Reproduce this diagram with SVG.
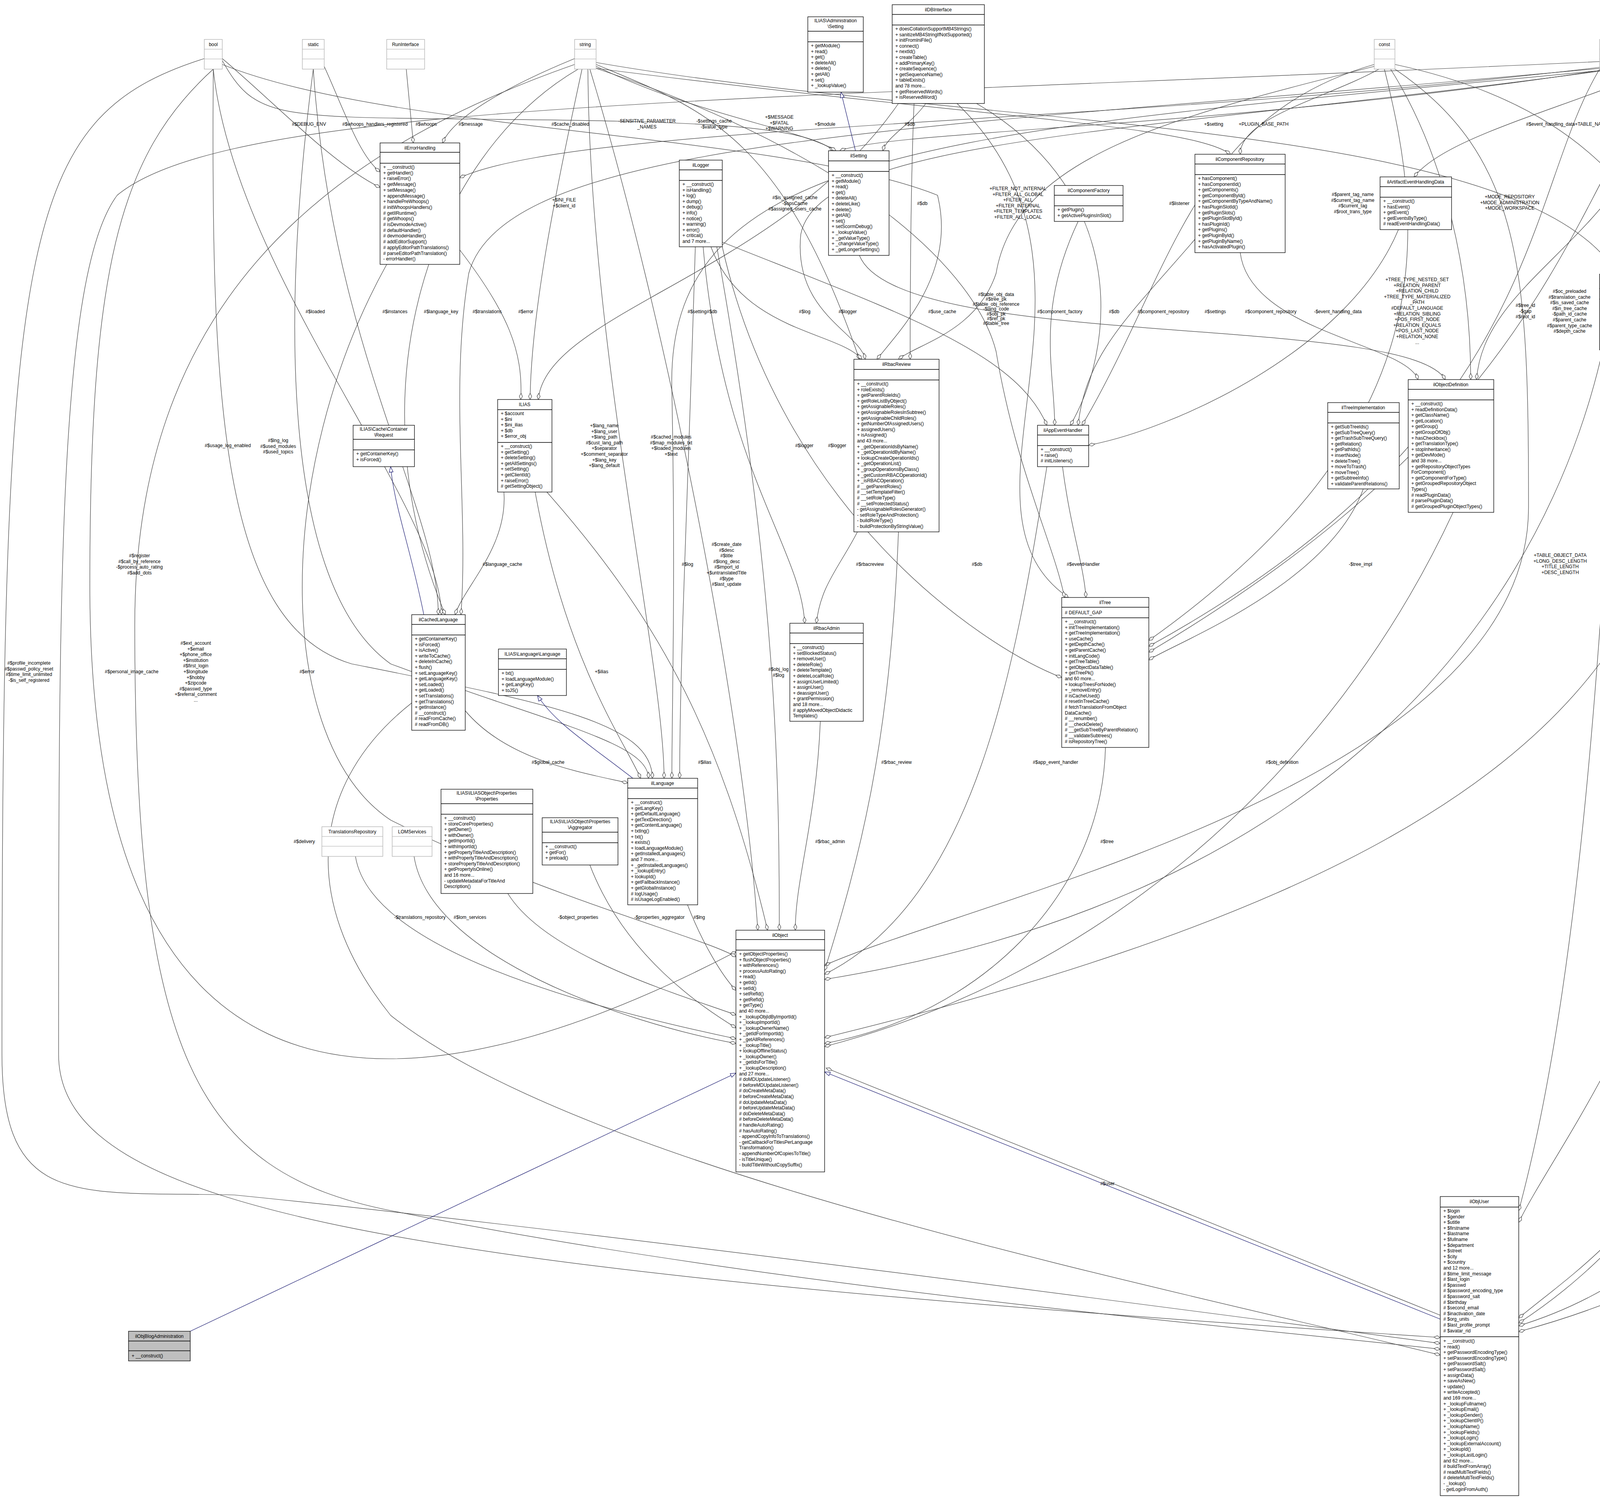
<svg xmlns="http://www.w3.org/2000/svg" width="5974" height="3836" viewBox="0 0 5974 3836">
<style>
text{font-family:"Liberation Sans",Arial,sans-serif;font-size:12px;fill:#000}
.c{text-anchor:middle}
.n rect{fill:#fff;stroke:#000;stroke-width:1.3}
.n path{stroke:#000;stroke-width:1.3;fill:none}
.ty rect{fill:#fff;stroke:#aaa;stroke-width:1.2}
.ty path{stroke:#aaa;stroke-width:1.2;fill:none}
.gr rect{fill:#bfbfbf;stroke:#000;stroke-width:1.3}
.gr path{stroke:#000;stroke-width:1.3;fill:none}
#edges path{fill:none;stroke:#404040;stroke-width:1.2;marker-end:url(#dia)}
#edges path.inh{stroke:#191970;marker-end:url(#tri)}
#labels text{text-anchor:middle}
</style>
<defs>
<marker id="dia" markerWidth="18" markerHeight="10" refX="17" refY="5" orient="auto" markerUnits="userSpaceOnUse"><path d="M1,5 L9,1 L17,5 L9,9 Z" fill="#fff" stroke="#404040" stroke-width="1.2"/></marker>
<marker id="tri" markerWidth="16" markerHeight="12" refX="15" refY="6" orient="auto" markerUnits="userSpaceOnUse"><path d="M1,1 L15,6 L1,11 Z" fill="#fff" stroke="#191970" stroke-width="1.2"/></marker>
</defs>
<rect width="5974" height="3836" fill="#fff"/>

<g id="edges">
<path d="M569,150 C700,260 850,420 973,480"/>
<path d="M830,170 C880,280 920,400 973,440"/>
<path d="M1040,177 L1058,366"/>
<path d="M1471,150 C1300,220 1160,300 1133,366"/>
<path d="M569,155 C650,300 700,300 1200,305 C1800,310 2050,320 2135,386"/>
<path d="M4255,152 C3000,320 1500,310 1177,455"/>
<path d="M4255,155 C3200,330 2300,330 2150,386"/>
<path d="M1526,170 C1800,300 2050,330 2140,386"/>
<path d="M1526,165 C1800,280 2000,340 2200,920"/>
<path d="M2370,265 C2330,320 2270,350 2260,386"/>
<path d="M1490,177 C1420,500 1360,800 1357,1023"/>
<path d="M1177,640 C1300,800 1340,900 1333,1023"/>
<path d="M2300,265 C2000,700 1400,800 1378,1023"/>
<path d="M546,177 C600,700 1130,1300 1130,1574"/>
<path d="M802,177 C850,900 1122,1300 1122,1574"/>
<path d="M1480,177 C1100,400 900,1000 1140,1574"/>
<path d="M4255,160 C2500,330 1300,330 1200,700 C1150,1000 1200,1300 1180,1574"/>
<path d="M1290,1260 C1300,1400 1190,1500 1165,1574"/>
<path d="M546,177 C540,1000 560,1600 900,1700 C1400,1800 1670,1850 1670,1993"/>
<path d="M802,177 C720,800 720,1500 1000,1700 C1400,1850 1660,1900 1660,1993"/>
<path d="M1505,177 C1510,900 1700,1700 1700,1993"/>
<path d="M4255,165 C2500,340 1700,340 1720,1000 C1730,1500 1720,1800 1720,1993"/>
<path d="M1780,632 C1760,1300 1740,1700 1740,1993"/>
<path d="M1370,1260 C1450,1700 1600,1900 1640,1993"/>
<path d="M1191,1820 C1300,1950 1500,1980 1607,2005"/>
<path d="M523,150 C50,300 5,600 5,2700 C5,3100 200,3050 600,3060 C1500,3150 3000,3350 3687,3440"/>
<path d="M546,177 C300,400 230,700 230,1500 C230,2800 900,2950 1884,2437"/>
<path d="M1471,165 C800,400 345,800 345,1600 C345,2700 500,3000 1000,3100 C2000,3300 3200,3400 3687,3455"/>
<path d="M4255,150 C2000,260 600,250 300,500 C150,700 150,1500 150,2700 C150,3100 1000,3250 3687,3425"/>
<path d="M1054,1800 C800,2000 760,2300 1000,2600 C1500,3000 3000,3300 3687,3470"/>
<path d="M990,677 C700,1200 700,1900 1000,2100 C1400,2300 1800,2400 1884,2450"/>
<path d="M1510,177 C1700,800 1900,1800 1940,2382"/>
<path d="M1835,632 C1990,1500 1995,2000 1995,2382"/>
<path d="M1400,1260 C1700,1600 1850,1900 1965,2382"/>
<path d="M1760,2317 C1800,2420 1850,2500 1884,2536"/>
<path d="M1300,2288 C1400,2450 1750,2550 1884,2599"/>
<path d="M1510,2215 C1600,2450 1800,2580 1884,2632"/>
<path d="M910,2193 C950,2450 1600,2600 1884,2660"/>
<path d="M1060,2193 C1100,2450 1600,2620 1884,2672"/>
<path d="M3530,177 C3400,250 3175,300 3175,395"/>
<path d="M1526,175 C2500,300 3050,320 3150,395"/>
<path d="M3544,177 C3650,600 3700,1100 2941,1640"/>
<path d="M3560,177 C3700,400 3765,700 3765,972"/>
<path d="M3518,170 C3000,300 2600,400 2550,700 C2500,850 2350,880 2300,920"/>
<path d="M3571,177 C3900,400 3913,700 3913,1300 C3913,2000 2500,2300 2111,2472"/>
<path d="M3571,165 C4200,300 4420,700 4420,1500 C4420,2400 4000,2900 3888,3130"/>
<path d="M4095,177 C3900,500 3950,1100 2941,1655"/>
<path d="M4114,177 C4260,800 4000,2200 2111,2508"/>
<path d="M4133,177 C4400,800 4450,1500 4450,2200 C4450,3000 4100,3200 3888,3375"/>
<path d="M1526,160 C2500,330 3900,300 4140,702"/>
<path d="M4270,177 C4200,600 3800,700 3780,972"/>
<path d="M4255,177 C4000,600 3900,1100 2941,1670"/>
<path d="M4290,177 C4450,1400 4400,2100 2111,2657"/>
<path d="M4306,170 C4600,600 4660,1300 4660,2200 C4660,3000 4200,3300 3888,3395"/>
<path d="M4255,160 C3000,340 2100,340 2050,600 C2030,800 2200,850 2215,920"/>
<path d="M569,165 C1000,340 2000,340 2400,500 C2450,700 2300,850 2245,920"/>
<path d="M4306,160 C5000,250 5200,300 5290,395"/>
<path d="M4306,158 C5100,220 5400,320 5458,453"/>
<path d="M4255,170 C4000,280 3700,350 3620,453"/>
<path d="M2340,265 C2330,500 2330,800 2330,920"/>
<path d="M2450,265 C2900,700 2400,1300 2735,1530"/>
<path d="M2500,265 C2900,500 2850,900 2740,1089"/>
<path d="M1526,175 C2200,400 2500,700 2550,900 C2600,1200 2700,1400 2725,1530"/>
<path d="M2200,654 C2300,900 3600,800 3700,972"/>
<path d="M1820,632 C1900,850 2150,850 2206,920"/>
<path d="M1849,620 C2300,800 2600,900 2680,1089"/>
<path d="M1800,632 C1850,1200 2050,1400 2060,1596"/>
<path d="M1849,632 C2000,1300 2500,1650 2718,1735"/>
<path d="M2195,1362 C2150,1450 2100,1500 2090,1596"/>
<path d="M2300,1362 C2280,1900 2200,2200 2111,2485"/>
<path d="M2100,1847 C2090,2100 2036,2250 2036,2382"/>
<path d="M2720,1195 C2740,1350 2775,1450 2780,1530"/>
<path d="M2680,1195 C2600,1700 2500,2300 2111,2495"/>
<path d="M2760,567 C2650,800 2700,950 2700,1089"/>
<path d="M3070,600 C2900,800 2780,900 2760,1089"/>
<path d="M3175,647 C3200,850 3600,880 3630,972"/>
<path d="M3580,588 C3450,900 3000,1100 2787,1140"/>
<path d="M3518,165 C3050,300 3000,700 2770,1089"/>
<path d="M3490,1252 C3400,1500 3000,1650 2941,1690"/>
<path d="M2830,1914 C2820,2300 2500,2600 2111,2672"/>
<path d="M3720,1312 C3400,2000 2800,2500 2111,2680"/>
<path d="M3687,3368 L2115,2735"/>
<path d="M4140,896 C4100,1600 4050,2500 3888,3100"/>
<path d="M5085,1238 C4970,1500 4950,1800 4950,2300 C4950,3000 4300,3300 3888,3410"/>
<path d="M4355,2729 C4350,3000 4100,3250 3888,3388"/>
<path d="M4690,567 C4750,900 4950,1050 5064,1078"/>
<path d="M4880,604 C4950,850 5070,950 5081,1045"/>
<path d="M5065,634 C5090,850 5106,950 5106,1045"/>
<path d="M5250,647 C5230,850 5140,950 5130,1045"/>
<path d="M5445,588 C5400,800 5250,950 5222,1045"/>
<path d="M5640,573 C5550,800 5350,1000 5223,1088"/>
<path d="M5850,611 C5800,850 5500,1050 5223,1118"/>
<path class="inh" d="M2190,386 L2153,236"/>
<path class="inh" d="M1085,1574 C1050,1400 1010,1300 1000,1195"/>
<path class="inh" d="M1620,1993 C1500,1900 1420,1850 1376,1781"/>
<path class="inh" d="M487,3409 L1884,2748"/>
<path class="inh" d="M3687,3378 L2111,2745"/>
<path class="inh" d="M5660,468 L5710,272"/>
<path class="inh" d="M5830,431 L5790,272"/>
</g>

<g id="labels">
<text x="791" y="322">#$DEBUG_ENV</text>
<text x="960" y="322">#$whoops_handlers_registered</text>
<text x="1091" y="322">#$whoops</text>
<text x="1205" y="322">#$message</text>
<text x="1460" y="322">#$cache_disabled</text>
<text x="1656" y="314">-SENSITIVE_PARAMETER<tspan x="1656" dy="14.6">_NAMES</tspan></text>
<text x="1828" y="314">-$settings_cache<tspan x="1828" dy="14.6">-$value_type</tspan></text>
<text x="1995" y="304">+$MESSAGE<tspan x="1995" dy="14.6">+$FATAL</tspan><tspan x="1995" dy="14.6">+$WARNING</tspan></text>
<text x="2112" y="322">+$module</text>
<text x="2329" y="322">#$db</text>
<text x="3107" y="322">+$setting</text>
<text x="3235" y="322">+PLUGIN_BASE_PATH</text>
<text x="4012" y="322">#$event_handling_data+TABLE_NAME</text>
<text x="5146" y="314">-$rid_cache<tspan x="5146" dy="14.6">-$cache</tspan></text>
<text x="5390" y="322">#$observer_groups</text>
<text x="1444" y="516">+$INI_FILE<tspan x="1444" dy="14.6">+$client_id</tspan></text>
<text x="2035" y="510">#$is_assigned_cache<tspan x="2035" dy="14.6">-$opsCache</tspan><tspan x="2035" dy="14.6">#$assigned_users_cache</tspan></text>
<text x="2361" y="525">#$db</text>
<text x="2606" y="487">+FILTER_NOT_INTERNAL<tspan x="2606" dy="14.6">+FILTER_ALL_GLOBAL</tspan><tspan x="2606" dy="14.6">+FILTER_ALL</tspan><tspan x="2606" dy="14.6">+FILTER_INTERNAL</tspan><tspan x="2606" dy="14.6">+FILTER_TEMPLATES</tspan><tspan x="2606" dy="14.6">+FILTER_ALL_LOCAL</tspan></text>
<text x="3019" y="525">#$listener</text>
<text x="3463" y="502">#$parent_tag_name<tspan x="3463" dy="14.6">#$current_tag_name</tspan><tspan x="3463" dy="14.6">#$current_tag</tspan><tspan x="3463" dy="14.6">#$root_trans_type</tspan></text>
<text x="3865" y="508">+MODE_REPOSITORY<tspan x="3865" dy="14.6">+MODE_ADMINISTRATION</tspan><tspan x="3865" dy="14.6">+MODE_WORKSPACE</tspan></text>
<text x="4229" y="509">#$obj_data<tspan x="4229" dy="14.6">#$obj_group</tspan><tspan x="4229" dy="14.6">#$sub_types</tspan></text>
<text x="807" y="802">#$loaded</text>
<text x="1011" y="802">#$instances</text>
<text x="1129" y="802">#$language_key</text>
<text x="1247" y="802">#$translations</text>
<text x="1346" y="802">#$error</text>
<text x="1798" y="802">#$setting#$db</text>
<text x="2060" y="802">#$log</text>
<text x="2170" y="802">#$logger</text>
<text x="2412" y="802">#$use_cache</text>
<text x="2550" y="758">#$table_obj_data<tspan x="2550" dy="12.4">#$tree_pk</tspan><tspan x="2550" dy="12.4">#$table_obj_reference</tspan><tspan x="2550" dy="12.4">-$lang_code</tspan><tspan x="2550" dy="12.4">#$obj_pk</tspan><tspan x="2550" dy="12.4">#$ref_pk</tspan><tspan x="2550" dy="12.4">#$table_tree</tspan></text>
<text x="2713" y="802">#$component_factory</text>
<text x="2852" y="802">#$db</text>
<text x="2978" y="802">#$component_repository</text>
<text x="3111" y="802">#$settings</text>
<text x="3253" y="802">#$component_repository</text>
<text x="3425" y="802">-$event_handling_data</text>
<text x="3628" y="720">+TREE_TYPE_NESTED_SET<tspan x="3628" dy="14.6">+RELATION_PARENT</tspan><tspan x="3628" dy="14.6">+RELATION_CHILD</tspan><tspan x="3628" dy="14.6">+TREE_TYPE_MATERIALIZED</tspan><tspan x="3628" dy="14.6">_PATH</tspan><tspan x="3628" dy="14.6">#DEFAULT_LANGUAGE</tspan><tspan x="3628" dy="14.6">+RELATION_SIBLING</tspan><tspan x="3628" dy="14.6">+POS_FIRST_NODE</tspan><tspan x="3628" dy="14.6">+RELATION_EQUALS</tspan><tspan x="3628" dy="14.6">+POS_LAST_NODE</tspan><tspan x="3628" dy="14.6">+RELATION_NONE</tspan><tspan x="3628" dy="14.6">...</tspan></text>
<text x="3905" y="786">#$tree_id<tspan x="3905" dy="14.6">-$gap</tspan><tspan x="3905" dy="14.6">#$root_id</tspan></text>
<text x="4018" y="750">#$oc_preloaded<tspan x="4018" dy="14.6">#$translation_cache</tspan><tspan x="4018" dy="14.6">#$is_saved_cache</tspan><tspan x="4018" dy="14.6">#$in_tree_cache</tspan><tspan x="4018" dy="14.6">-$path_id_cache</tspan><tspan x="4018" dy="14.6">#$parent_cache</tspan><tspan x="4018" dy="14.6">#$parent_type_cache</tspan><tspan x="4018" dy="14.6">#$depth_cache</tspan></text>
<text x="4899" y="802">#$preloader</text>
<text x="5047" y="802">#$flavours</text>
<text x="5150" y="802">#$consumers</text>
<text x="5268" y="802">#$collections</text>
<text x="5426" y="802">#$events</text>
<text x="5610" y="802">#$manager</text>
<text x="5848" y="802">#$container_manager</text>
<text x="583" y="1145">#$usage_log_enabled</text>
<text x="712" y="1132">#$lng_log<tspan x="712" dy="14.6">#$used_modules</tspan><tspan x="712" dy="14.6">#$used_topics</tspan></text>
<text x="1547" y="1094">+$lang_name<tspan x="1547" dy="14.6">+$lang_user</tspan><tspan x="1547" dy="14.6">+$lang_path</tspan><tspan x="1547" dy="14.6">#$cust_lang_path</tspan><tspan x="1547" dy="14.6">+$separator</tspan><tspan x="1547" dy="14.6">+$comment_separator</tspan><tspan x="1547" dy="14.6">+$lang_key</tspan><tspan x="1547" dy="14.6">+$lang_default</tspan></text>
<text x="1718" y="1123">#$cached_modules<tspan x="1718" dy="14.6">#$map_modules_txt</tspan><tspan x="1718" dy="14.6">+$loaded_modules</tspan><tspan x="1718" dy="14.6">+$text</tspan></text>
<text x="2059" y="1145">#$logger</text>
<text x="2143" y="1145">#$logger</text>
<text x="357" y="1427">#$register<tspan x="357" dy="14.6">#$call_by_reference</tspan><tspan x="357" dy="14.6">-$process_auto_rating</tspan><tspan x="357" dy="14.6">#$add_dots</tspan></text>
<text x="1286" y="1449">#$language_cache</text>
<text x="1760" y="1449">#$log</text>
<text x="1860" y="1398">#$create_date<tspan x="1860" dy="14.6">#$desc</tspan><tspan x="1860" dy="14.6">#$title</tspan><tspan x="1860" dy="14.6">#$long_desc</tspan><tspan x="1860" dy="14.6">#$import_id</tspan><tspan x="1860" dy="14.6">+$untranslatedTitle</tspan><tspan x="1860" dy="14.6">#$type</tspan><tspan x="1860" dy="14.6">#$last_update</tspan></text>
<text x="2227" y="1449">#$rbacreview</text>
<text x="2501" y="1449">#$db</text>
<text x="2773" y="1449">#$eventHandler</text>
<text x="3483" y="1449">-$tree_impl</text>
<text x="3994" y="1426">+TABLE_OBJECT_DATA<tspan x="3994" dy="14.6">+LONG_DESC_LENGTH</tspan><tspan x="3994" dy="14.6">+TITLE_LENGTH</tspan><tspan x="3994" dy="14.6">+DESC_LENGTH</tspan></text>
<text x="4252" y="1426">#$ref_id<tspan x="4252" dy="14.6">#$max_desc</tspan><tspan x="4252" dy="14.6">#$max_title</tspan><tspan x="4252" dy="14.6">#$owner</tspan></text>
<text x="4467" y="1449">+$objectList</text>
<text x="74" y="1702">#$profile_incomplete<tspan x="74" dy="14.6">#$passwd_policy_reset</tspan><tspan x="74" dy="14.6">#$time_limit_unlimited</tspan><tspan x="74" dy="14.6">-$is_self_registered</tspan></text>
<text x="337" y="1724">#$personal_image_cache</text>
<text x="501" y="1651">#$ext_account<tspan x="501" dy="14.6">+$email</tspan><tspan x="501" dy="14.6">+$phone_office</tspan><tspan x="501" dy="14.6">+$institution</tspan><tspan x="501" dy="14.6">#$first_login</tspan><tspan x="501" dy="14.6">+$longitude</tspan><tspan x="501" dy="14.6">+$hobby</tspan><tspan x="501" dy="14.6">+$zipcode</tspan><tspan x="501" dy="14.6">#$passwd_type</tspan><tspan x="501" dy="14.6">+$referral_comment</tspan><tspan x="501" dy="14.6">...</tspan></text>
<text x="786" y="1724">#$error</text>
<text x="1540" y="1724">+$ilias</text>
<text x="1993" y="1718">#$obj_log<tspan x="1993" dy="14.6">#$log</tspan></text>
<text x="4359" y="1710">+PASSWD_CRYPTED<tspan x="4359" dy="14.6">+NO_AVATAR_RID</tspan><tspan x="4359" dy="14.6">+PASSWD_PLAIN</tspan></text>
<text x="4543" y="1688">#$time_limit_owner<tspan x="4543" dy="14.6">+$active</tspan><tspan x="4543" dy="14.6">#$time_limit_from</tspan><tspan x="4543" dy="14.6">#$time_limit_until</tspan><tspan x="4543" dy="14.6">+$login_attempts</tspan><tspan x="4543" dy="14.6">+$last_password_change_ts</tspan></text>
<text x="4736" y="1673">+$prefs<tspan x="4736" dy="14.6">+$user_defined_data</tspan><tspan x="4736" dy="14.6">#$interests_help</tspan><tspan x="4736" dy="14.6">_offered</tspan><tspan x="4736" dy="14.6">#$interests_general</tspan><tspan x="4736" dy="14.6">#$oldPrefs</tspan><tspan x="4736" dy="14.6">#$interests_help</tspan><tspan x="4736" dy="14.6">_looking</tspan></text>
<text x="1403" y="1956">#$global_cache</text>
<text x="1804" y="1956">#$ilias</text>
<text x="2295" y="1956">#$rbac_review</text>
<text x="2702" y="1956">#$app_event_handler</text>
<text x="3282" y="1956">#$obj_definition</text>
<text x="4163" y="1948">-$cron_delete_user<tspan x="4163" dy="14.6">_reminder_mail</tspan></text>
<text x="779" y="2159">#$delivery</text>
<text x="2125" y="2159">#$rbac_admin</text>
<text x="2834" y="2159">#$tree</text>
<text x="4968" y="2158">-$irss</text>
<text x="1075" y="2353">-$translations_repository</text>
<text x="1203" y="2353">#$lom_services</text>
<text x="1480" y="2353">-$object_properties</text>
<text x="1688" y="2353">-$properties_aggregator</text>
<text x="1790" y="2353">#$lng</text>
<text x="2835" y="3035">#$user</text>
<text x="4341" y="3035">#$date_format_factory</text>
</g>

<g id="bool" class="ty"><rect x="523" y="101" width="46" height="76"/><path d="M523,126H569M523,151H569"/><text class="c" x="546" y="118">bool</text></g>
<g id="static" class="ty"><rect x="774" y="101" width="56" height="76"/><path d="M774,126H830M774,151H830"/><text class="c" x="802" y="118">static</text></g>
<g id="RunInterface" class="ty"><rect x="990" y="101" width="97" height="76"/><path d="M990,126H1087M990,151H1087"/><text class="c" x="1038" y="118">RunInterface</text></g>
<g id="string" class="ty"><rect x="1471" y="101" width="55" height="76"/><path d="M1471,126H1526M1471,151H1526"/><text class="c" x="1498" y="118">string</text></g>
<g id="const" class="ty"><rect x="3518" y="101" width="53" height="76"/><path d="M3518,126H3571M3518,151H3571"/><text class="c" x="3544" y="118">const</text></g>
<g id="int" class="ty"><rect x="4095" y="101" width="38" height="76"/><path d="M4095,126H4133M4095,151H4133"/><text class="c" x="4114" y="118">int</text></g>
<g id="array" class="ty"><rect x="4255" y="101" width="51" height="76"/><path d="M4255,126H4306M4255,151H4306"/><text class="c" x="4280" y="118">array</text></g>
<g id="TranslationsRepository" class="ty"><rect x="824" y="2117" width="156" height="76"/><path d="M824,2142H980M824,2167H980"/><text class="c" x="902" y="2134">TranslationsRepository</text></g>
<g id="LOMServices" class="ty"><rect x="1004" y="2117" width="102" height="76"/><path d="M1004,2142H1106M1004,2167H1106"/><text class="c" x="1055" y="2134">LOMServices</text></g>
<g id="DateFormatFactory" class="ty"><rect x="4288" y="2653" width="135" height="76"/><path d="M4288,2678H4423M4288,2703H4423"/><text class="c" x="4355" y="2670">DateFormatFactory</text></g>

<g id="ilErrorHandling" class="n"><rect x="973" y="366" width="204" height="311"/><path d="M973,390H1177M973,418H1177"/><text class="c" x="1075" y="383">ilErrorHandling</text>
<text x="981" y="432"><tspan x="981" dy="0">+ __construct()</tspan><tspan x="981" dy="14.7">+ getHandler()</tspan><tspan x="981" dy="14.7">+ raiseError()</tspan><tspan x="981" dy="14.7">+ getMessage()</tspan><tspan x="981" dy="14.7">+ setMessage()</tspan><tspan x="981" dy="14.7">+ appendMessage()</tspan><tspan x="981" dy="14.7">+ handlePreWhoops()</tspan><tspan x="981" dy="14.7"># initWhoopsHandlers()</tspan><tspan x="981" dy="14.7"># getIlRuntime()</tspan><tspan x="981" dy="14.7"># getWhoops()</tspan><tspan x="981" dy="14.7"># isDevmodeActive()</tspan><tspan x="981" dy="14.7"># defaultHandler()</tspan><tspan x="981" dy="14.7"># devmodeHandler()</tspan><tspan x="981" dy="14.7"># addEditorSupport()</tspan><tspan x="981" dy="14.7"># applyEditorPathTranslations()</tspan><tspan x="981" dy="14.7"># parseEditorPathTranslation()</tspan><tspan x="981" dy="14.7">- errorHandler()</tspan></text></g>

<g id="ilLogger" class="n"><rect x="1739" y="410" width="110" height="222"/><path d="M1739,435H1849M1739,462H1849"/><text class="c" x="1794" y="427">ilLogger</text>
<text x="1747" y="476"><tspan x="1747" dy="0">+ __construct()</tspan><tspan x="1747" dy="14.6">+ isHandling()</tspan><tspan x="1747" dy="14.6">+ log()</tspan><tspan x="1747" dy="14.6">+ dump()</tspan><tspan x="1747" dy="14.6">+ debug()</tspan><tspan x="1747" dy="14.6">+ info()</tspan><tspan x="1747" dy="14.6">+ notice()</tspan><tspan x="1747" dy="14.6">+ warning()</tspan><tspan x="1747" dy="14.6">+ error()</tspan><tspan x="1747" dy="14.6">+ critical()</tspan><tspan x="1747" dy="14.6">and 7 more...</tspan></text></g>

<g id="ILIAS" class="n"><rect x="1274" y="1023" width="139" height="237"/><path d="M1274,1049H1413M1274,1133H1413"/><text class="c" x="1343" y="1040">ILIAS</text>
<text x="1282" y="1063"><tspan x="1282" dy="0">+ $account</tspan><tspan x="1282" dy="14.6">+ $ini</tspan><tspan x="1282" dy="14.6">+ $ini_ilias</tspan><tspan x="1282" dy="14.6">+ $db</tspan><tspan x="1282" dy="14.6">+ $error_obj</tspan></text>
<text x="1282" y="1147"><tspan x="1282" dy="0">+ __construct()</tspan><tspan x="1282" dy="14.6">+ getSetting()</tspan><tspan x="1282" dy="14.6">+ deleteSetting()</tspan><tspan x="1282" dy="14.6">+ getAllSettings()</tspan><tspan x="1282" dy="14.6">+ setSetting()</tspan><tspan x="1282" dy="14.6">+ getClientId()</tspan><tspan x="1282" dy="14.6">+ raiseError()</tspan><tspan x="1282" dy="14.6"># getSettingObject()</tspan></text></g>

<g id="CacheRequest" class="n"><rect x="904" y="1089" width="157" height="106"/><path d="M904,1125H1061M904,1152H1061"/><text class="c" x="982" y="1103">ILIAS\Cache\Container<tspan x="982" dy="14.6">\Request</tspan></text>
<text x="912" y="1166"><tspan x="912" dy="0">+ getContainerKey()</tspan><tspan x="912" dy="14.6">+ isForced()</tspan></text></g>

<g id="AdministrationSetting" class="n"><rect x="2068" y="43" width="142" height="193"/><path d="M2068,80H2210M2068,107H2210"/><text class="c" x="2139" y="57">ILIAS\Administration<tspan x="2139" dy="14.6">\Setting</tspan></text>
<text x="2076" y="121"><tspan x="2076" dy="0">+ getModule()</tspan><tspan x="2076" dy="14.6">+ read()</tspan><tspan x="2076" dy="14.6">+ get()</tspan><tspan x="2076" dy="14.6">+ deleteAll()</tspan><tspan x="2076" dy="14.6">+ delete()</tspan><tspan x="2076" dy="14.6">+ getAll()</tspan><tspan x="2076" dy="14.6">+ set()</tspan><tspan x="2076" dy="14.6">+ _lookupValue()</tspan></text></g>

<g id="ilDBInterface" class="n"><rect x="2284" y="12" width="236" height="253"/><path d="M2284,37H2520M2284,64H2520"/><text class="c" x="2402" y="29">ilDBInterface</text>
<text x="2292" y="78"><tspan x="2292" dy="0">+ doesCollationSupportMB4Strings()</tspan><tspan x="2292" dy="14.6">+ sanitizeMB4StringIfNotSupported()</tspan><tspan x="2292" dy="14.6">+ initFromIniFile()</tspan><tspan x="2292" dy="14.6">+ connect()</tspan><tspan x="2292" dy="14.6">+ nextId()</tspan><tspan x="2292" dy="14.6">+ createTable()</tspan><tspan x="2292" dy="14.6">+ addPrimaryKey()</tspan><tspan x="2292" dy="14.6">+ createSequence()</tspan><tspan x="2292" dy="14.6">+ getSequenceName()</tspan><tspan x="2292" dy="14.6">+ tableExists()</tspan><tspan x="2292" dy="14.6">and 78 more...</tspan><tspan x="2292" dy="14.6">+ getReservedWords()</tspan><tspan x="2292" dy="14.6">+ isReservedWord()</tspan></text></g>

<g id="ilSetting" class="n"><rect x="2121" y="386" width="155" height="268"/><path d="M2121,412H2276M2121,439H2276"/><text class="c" x="2198" y="403">ilSetting</text>
<text x="2129" y="453"><tspan x="2129" dy="0">+ __construct()</tspan><tspan x="2129" dy="14.6">+ getModule()</tspan><tspan x="2129" dy="14.6">+ read()</tspan><tspan x="2129" dy="14.6">+ get()</tspan><tspan x="2129" dy="14.6">+ deleteAll()</tspan><tspan x="2129" dy="14.6">+ deleteLike()</tspan><tspan x="2129" dy="14.6">+ delete()</tspan><tspan x="2129" dy="14.6">+ getAll()</tspan><tspan x="2129" dy="14.6">+ set()</tspan><tspan x="2129" dy="14.6">+ setScormDebug()</tspan><tspan x="2129" dy="14.6">+ _lookupValue()</tspan><tspan x="2129" dy="14.6">+ _getValueType()</tspan><tspan x="2129" dy="14.6">+ _changeValueType()</tspan><tspan x="2129" dy="14.6">+ _getLongerSettings()</tspan></text></g>

<g id="ilComponentFactory" class="n"><rect x="2699" y="475" width="176" height="92"/><path d="M2699,500H2875M2699,527H2875"/><text class="c" x="2787" y="492">ilComponentFactory</text>
<text x="2707" y="541"><tspan x="2707" dy="0">+ getPlugin()</tspan><tspan x="2707" dy="14.6">+ getActivePluginsInSlot()</tspan></text></g>

<g id="ilComponentRepository" class="n"><rect x="3059" y="395" width="231" height="252"/><path d="M3059,420H3290M3059,447H3290"/><text class="c" x="3174" y="412">ilComponentRepository</text>
<text x="3067" y="461"><tspan x="3067" dy="0">+ hasComponent()</tspan><tspan x="3067" dy="14.6">+ hasComponentId()</tspan><tspan x="3067" dy="14.6">+ getComponents()</tspan><tspan x="3067" dy="14.6">+ getComponentById()</tspan><tspan x="3067" dy="14.6">+ getComponentByTypeAndName()</tspan><tspan x="3067" dy="14.6">+ hasPluginSlotId()</tspan><tspan x="3067" dy="14.6">+ getPluginSlots()</tspan><tspan x="3067" dy="14.6">+ getPluginSlotById()</tspan><tspan x="3067" dy="14.6">+ hasPluginId()</tspan><tspan x="3067" dy="14.6">+ getPlugins()</tspan><tspan x="3067" dy="14.6">+ getPluginById()</tspan><tspan x="3067" dy="14.6">+ getPluginByName()</tspan><tspan x="3067" dy="14.6">+ hasActivatedPlugin()</tspan></text></g>

<g id="ilArtifactEventHandlingData" class="n"><rect x="3533" y="453" width="183" height="135"/><path d="M3533,478H3716M3533,505H3716"/><text class="c" x="3624" y="470">ilArtifactEventHandlingData</text>
<text x="3541" y="519"><tspan x="3541" dy="0">+ __construct()</tspan><tspan x="3541" dy="14.6">+ hasEvent()</tspan><tspan x="3541" dy="14.6">+ getEvent()</tspan><tspan x="3541" dy="14.6">+ getEventsByType()</tspan><tspan x="3541" dy="14.6"># readEventHandlingData()</tspan></text></g>

<g id="ilRbacReview" class="n"><rect x="2186" y="920" width="218" height="442"/><path d="M2186,946H2404M2186,973H2404"/><text class="c" x="2295" y="937">ilRbacReview</text>
<text x="2194" y="987"><tspan x="2194" dy="0">+ __construct()</tspan><tspan x="2194" dy="14.6">+ roleExists()</tspan><tspan x="2194" dy="14.6">+ getParentRoleIds()</tspan><tspan x="2194" dy="14.6">+ getRoleListByObject()</tspan><tspan x="2194" dy="14.6">+ getAssignableRoles()</tspan><tspan x="2194" dy="14.6">+ getAssignableRolesInSubtree()</tspan><tspan x="2194" dy="14.6">+ getAssignableChildRoles()</tspan><tspan x="2194" dy="14.6">+ getNumberOfAssignedUsers()</tspan><tspan x="2194" dy="14.6">+ assignedUsers()</tspan><tspan x="2194" dy="14.6">+ isAssigned()</tspan><tspan x="2194" dy="14.6">and 43 more...</tspan><tspan x="2194" dy="14.6">+ _getOperationIdsByName()</tspan><tspan x="2194" dy="14.6">+ _getOperationIdByName()</tspan><tspan x="2194" dy="14.6">+ lookupCreateOperationIds()</tspan><tspan x="2194" dy="14.6">+ _getOperationList()</tspan><tspan x="2194" dy="14.6">+ _groupOperationsByClass()</tspan><tspan x="2194" dy="14.6">+ _getCustomRBACOperationId()</tspan><tspan x="2194" dy="14.6">+ _isRBACOperation()</tspan><tspan x="2194" dy="14.6"># __getParentRoles()</tspan><tspan x="2194" dy="14.6"># __setTemplateFilter()</tspan><tspan x="2194" dy="14.6"># __setRoleType()</tspan><tspan x="2194" dy="14.6"># __setProtectedStatus()</tspan><tspan x="2194" dy="14.6">- getAssignableRolesGenerator()</tspan><tspan x="2194" dy="14.6">- setRoleTypeAndProtection()</tspan><tspan x="2194" dy="14.6">- buildRoleType()</tspan><tspan x="2194" dy="14.6">- buildProtectionByStringValue()</tspan></text></g>

<g id="ilAppEventHandler" class="n"><rect x="2656" y="1089" width="131" height="106"/><path d="M2656,1114H2787M2656,1141H2787"/><text class="c" x="2721" y="1106">ilAppEventHandler</text>
<text x="2664" y="1155"><tspan x="2664" dy="0">+ __construct()</tspan><tspan x="2664" dy="14.6">+ raise()</tspan><tspan x="2664" dy="14.6"># initListeners()</tspan></text></g>

<g id="ilObjectDefinition" class="n"><rect x="3605" y="972" width="219" height="340"/><path d="M3605,997H3824M3605,1024H3824"/><text class="c" x="3714" y="989">ilObjectDefinition</text>
<text x="3613" y="1038"><tspan x="3613" dy="0">+ __construct()</tspan><tspan x="3613" dy="14.6">+ readDefinitionData()</tspan><tspan x="3613" dy="14.6">+ getClassName()</tspan><tspan x="3613" dy="14.6">+ getLocation()</tspan><tspan x="3613" dy="14.6">+ getGroup()</tspan><tspan x="3613" dy="14.6">+ getGroupOfObj()</tspan><tspan x="3613" dy="14.6">+ hasCheckbox()</tspan><tspan x="3613" dy="14.6">+ getTranslationType()</tspan><tspan x="3613" dy="14.6">+ stopInheritance()</tspan><tspan x="3613" dy="14.6">+ getDevMode()</tspan><tspan x="3613" dy="14.6">and 38 more...</tspan><tspan x="3613" dy="14.6">+ getRepositoryObjectTypes</tspan><tspan x="3613" dy="14.6">ForComponent()</tspan><tspan x="3613" dy="14.6">+ getComponentForType()</tspan><tspan x="3613" dy="14.6">+ getGroupedRepositoryObject</tspan><tspan x="3613" dy="14.6">Types()</tspan><tspan x="3613" dy="14.6"># readPluginData()</tspan><tspan x="3613" dy="14.6"># parsePluginData()</tspan><tspan x="3613" dy="14.6"># getGroupedPluginObjectTypes()</tspan></text></g>

<g id="ilTreeImplementation" class="n"><rect x="3399" y="1031" width="183" height="221"/><path d="M3399,1056H3582M3399,1083H3582"/><text class="c" x="3490" y="1048">ilTreeImplementation</text>
<text x="3407" y="1097"><tspan x="3407" dy="0">+ getSubTreeIds()</tspan><tspan x="3407" dy="14.6">+ getSubTreeQuery()</tspan><tspan x="3407" dy="14.6">+ getTrashSubTreeQuery()</tspan><tspan x="3407" dy="14.6">+ getRelation()</tspan><tspan x="3407" dy="14.6">+ getPathIds()</tspan><tspan x="3407" dy="14.6">+ insertNode()</tspan><tspan x="3407" dy="14.6">+ deleteTree()</tspan><tspan x="3407" dy="14.6">+ moveToTrash()</tspan><tspan x="3407" dy="14.6">+ moveTree()</tspan><tspan x="3407" dy="14.6">+ getSubtreeInfo()</tspan><tspan x="3407" dy="14.6">+ validateParentRelations()</tspan></text></g>

<g id="ilCronDeleteInactiveUserReminderMail" class="n"><rect x="4095" y="702" width="210" height="194"/><path d="M4095,739H4305M4095,766H4305"/><text class="c" x="4200" y="716">ilCronDeleteInactiveUser<tspan x="4200" dy="14.6">ReminderMail</tspan></text>
<text x="4103" y="780"><tspan x="4103" dy="0">+ __construct()</tspan><tspan x="4103" dy="14.6">+ removeEntriesFromTableIf</tspan><tspan x="4103" dy="14.6">LastLoginIsNewer()</tspan><tspan x="4103" dy="14.6">+ sendReminderMailIfNeeded()</tspan><tspan x="4103" dy="14.6">+ flushDataTable()</tspan><tspan x="4103" dy="14.6">+ removeSingleUserFromTable()</tspan><tspan x="4103" dy="14.6">- persistMailSent()</tspan><tspan x="4103" dy="14.6">- sendReminder()</tspan></text></g>

<g id="BaseManager" class="n"><rect x="5632" y="6" width="233" height="266"/><path d="M5632,43H5865M5632,70H5865"/><text class="c" x="5748" y="20">ILIAS\ResourceStorage<tspan x="5748" dy="14.6">\Manager\BaseManager</tspan></text>
<text x="5640" y="84"><tspan x="5640" dy="0">+ __construct()</tspan><tspan x="5640" dy="14.6">+ publish()</tspan><tspan x="5640" dy="14.6">+ unpublish()</tspan><tspan x="5640" dy="14.6">+ find()</tspan><tspan x="5640" dy="14.6">+ getResource()</tspan><tspan x="5640" dy="14.6">+ remove()</tspan><tspan x="5640" dy="14.6">+ clone()</tspan><tspan x="5640" dy="14.6">+ appendNewRevision()</tspan><tspan x="5640" dy="14.6">+ replaceWithUpload()</tspan><tspan x="5640" dy="14.6">+ appendNewRevisionFromStream()</tspan><tspan x="5640" dy="14.6">and 6 more...</tspan><tspan x="5640" dy="14.6"># checkZIP()</tspan><tspan x="5640" dy="14.6"># newStreamBased()</tspan></text></g>

<g id="RepositoryPreloader" class="n"><rect x="4574" y="475" width="203" height="92"/><path d="M4574,512H4777M4574,539H4777"/><text class="c" x="4675" y="489">ILIAS\ResourceStorage<tspan x="4675" dy="14.6">\Preloader\RepositoryPreloader</tspan></text>
<text x="4582" y="553">+ preload()</text></g>

<g id="Flavours" class="n"><rect x="4802" y="439" width="159" height="165"/><path d="M4802,476H4961M4802,503H4961"/><text class="c" x="4881" y="453">ILIAS\ResourceStorage<tspan x="4881" dy="14.6">\Flavour\Flavours</tspan></text>
<text x="4810" y="517"><tspan x="4810" dy="0">+ __construct()</tspan><tspan x="4810" dy="14.6">+ get()</tspan><tspan x="4810" dy="14.6">+ ensure()</tspan><tspan x="4810" dy="14.6">+ has()</tspan><tspan x="4810" dy="14.6">+ remove()</tspan><tspan x="4810" dy="14.6">+ possible()</tspan></text></g>

<g id="Consumers" class="n"><rect x="4986" y="409" width="159" height="225"/><path d="M4986,446H5145M4986,473H5145"/><text class="c" x="5065" y="423">ILIAS\LegalDocuments<tspan x="5065" dy="14.6">\Consumer\Consumers</tspan></text>
<text x="4994" y="487"><tspan x="4994" dy="0">+ __construct()</tspan><tspan x="4994" dy="14.6">+ download()</tspan><tspan x="4994" dy="14.6">+ inline()</tspan><tspan x="4994" dy="14.6">+ stream()</tspan><tspan x="4994" dy="14.6">+ src()</tspan><tspan x="4994" dy="14.6">+ downloadCollection()</tspan><tspan x="4994" dy="14.6">+ downloadResources()</tspan><tspan x="4994" dy="14.6">+ flavourUrls()</tspan><tspan x="4994" dy="14.6">+ containerZIP()</tspan><tspan x="4994" dy="14.6">+ containerURI()</tspan></text></g>

<g id="Collections" class="n"><rect x="5171" y="395" width="182" height="252"/><path d="M5171,447H5353M5171,474H5353"/><text class="c" x="5262" y="409">ILIAS\Export\ImportHandler<tspan x="5262" dy="14.6">\Parser\NodeInfo\Collection</tspan><tspan x="5262" dy="14.6">\Collections</tspan></text>
<text x="5179" y="488"><tspan x="5179" dy="0">+ __construct()</tspan><tspan x="5179" dy="14.6">+ id()</tspan><tspan x="5179" dy="14.6">+ exists()</tspan><tspan x="5179" dy="14.6">+ idOrNull()</tspan><tspan x="5179" dy="14.6">+ get()</tspan><tspan x="5179" dy="14.6">+ store()</tspan><tspan x="5179" dy="14.6">+ clone()</tspan><tspan x="5179" dy="14.6">+ remove()</tspan><tspan x="5179" dy="14.6">+ rangeAsArray()</tspan><tspan x="5179" dy="14.6">+ rangeAsGenerator()</tspan><tspan x="5179" dy="14.6">+ sort()</tspan></text></g>

<g id="EventsSubject" class="n"><rect x="5378" y="453" width="160" height="135"/><path d="M5378,490H5538M5378,517H5538"/><text class="c" x="5458" y="467">ILIAS\ResourceStorage<tspan x="5458" dy="14.6">\Events\Subject</tspan></text>
<text x="5386" y="531"><tspan x="5386" dy="0">+ __construct()</tspan><tspan x="5386" dy="14.6">+ attach()</tspan><tspan x="5386" dy="14.6">+ detach()</tspan><tspan x="5386" dy="14.6"># initObserverGroup()</tspan></text></g>

<g id="Manager" class="n"><rect x="5562" y="468" width="160" height="105"/><path d="M5562,505H5722M5562,532H5722"/><text class="c" x="5642" y="482">ILIAS\ResourceStorage<tspan x="5642" dy="14.6">\Manager\Manager</tspan></text>
<text x="5570" y="546"><tspan x="5570" dy="0">+ upload()</tspan><tspan x="5570" dy="14.6">+ stream()</tspan></text></g>

<g id="ContainerManager" class="n"><rect x="5747" y="431" width="221" height="180"/><path d="M5747,468H5968M5747,495H5968"/><text class="c" x="5857" y="445">ILIAS\ResourceStorage<tspan x="5857" dy="14.6">\Manager\ContainerManager</tspan></text>
<text x="5755" y="509"><tspan x="5755" dy="0">+ containerFromUpload()</tspan><tspan x="5755" dy="14.6">+ containerFromStream()</tspan><tspan x="5755" dy="14.6">+ createDirectoryInsideContainer()</tspan><tspan x="5755" dy="14.6">+ removePathInsideContainer()</tspan><tspan x="5755" dy="14.6">+ addUploadToContainer()</tspan><tspan x="5755" dy="14.6">+ addStreamToContainer()</tspan><tspan x="5755" dy="14.6"># normalizePath()</tspan></text></g>

<g id="Services" class="n"><rect x="5064" y="1045" width="159" height="193"/><path d="M5064,1082H5223M5064,1109H5223"/><text class="c" x="5143" y="1059">ILIAS\ResourceStorage<tspan x="5143" dy="14.6">\Services</tspan></text>
<text x="5072" y="1123"><tspan x="5072" dy="0">+ __construct()</tspan><tspan x="5072" dy="14.6">+ manage()</tspan><tspan x="5072" dy="14.6">+ manageContainer()</tspan><tspan x="5072" dy="14.6">+ consume()</tspan><tspan x="5072" dy="14.6">+ collection()</tspan><tspan x="5072" dy="14.6">+ flavours()</tspan><tspan x="5072" dy="14.6">+ preload()</tspan><tspan x="5072" dy="14.6">+ events()</tspan></text></g>

<g id="ilCachedLanguage" class="n"><rect x="1054" y="1574" width="137" height="296"/><path d="M1054,1599H1191M1054,1626H1191"/><text class="c" x="1122" y="1591">ilCachedLanguage</text>
<text x="1062" y="1640"><tspan x="1062" dy="0">+ getContainerKey()</tspan><tspan x="1062" dy="14.6">+ isForced()</tspan><tspan x="1062" dy="14.6">+ isActive()</tspan><tspan x="1062" dy="14.6">+ writeToCache()</tspan><tspan x="1062" dy="14.6">+ deleteInCache()</tspan><tspan x="1062" dy="14.6">+ flush()</tspan><tspan x="1062" dy="14.6">+ setLanguageKey()</tspan><tspan x="1062" dy="14.6">+ getLanguageKey()</tspan><tspan x="1062" dy="14.6">+ setLoaded()</tspan><tspan x="1062" dy="14.6">+ getLoaded()</tspan><tspan x="1062" dy="14.6">+ setTranslations()</tspan><tspan x="1062" dy="14.6">+ getTranslations()</tspan><tspan x="1062" dy="14.6">+ getInstance()</tspan><tspan x="1062" dy="14.6"># __construct()</tspan><tspan x="1062" dy="14.6"># readFromCache()</tspan><tspan x="1062" dy="14.6"># readFromDB()</tspan></text></g>

<g id="LanguageLanguage" class="n"><rect x="1276" y="1662" width="174" height="119"/><path d="M1276,1687H1450M1276,1714H1450"/><text class="c" x="1363" y="1679">ILIAS\Language\Language</text>
<text x="1284" y="1728"><tspan x="1284" dy="0">+ txt()</tspan><tspan x="1284" dy="14.6">+ loadLanguageModule()</tspan><tspan x="1284" dy="14.6">+ getLangKey()</tspan><tspan x="1284" dy="14.6">+ toJS()</tspan></text></g>

<g id="ilLanguage" class="n"><rect x="1607" y="1993" width="179" height="324"/><path d="M1607,2018H1786M1607,2045H1786"/><text class="c" x="1696" y="2010">ilLanguage</text>
<text x="1615" y="2059"><tspan x="1615" dy="0">+ __construct()</tspan><tspan x="1615" dy="14.6">+ getLangKey()</tspan><tspan x="1615" dy="14.6">+ getDefaultLanguage()</tspan><tspan x="1615" dy="14.6">+ getTextDirection()</tspan><tspan x="1615" dy="14.6">+ getContentLanguage()</tspan><tspan x="1615" dy="14.6">+ txtlng()</tspan><tspan x="1615" dy="14.6">+ txt()</tspan><tspan x="1615" dy="14.6">+ exists()</tspan><tspan x="1615" dy="14.6">+ loadLanguageModule()</tspan><tspan x="1615" dy="14.6">+ getInstalledLanguages()</tspan><tspan x="1615" dy="14.6">and 7 more...</tspan><tspan x="1615" dy="14.6">+ _getInstalledLanguages()</tspan><tspan x="1615" dy="14.6">+ _lookupEntry()</tspan><tspan x="1615" dy="14.6">+ lookupId()</tspan><tspan x="1615" dy="14.6">+ getFallbackInstance()</tspan><tspan x="1615" dy="14.6">+ getGlobalInstance()</tspan><tspan x="1615" dy="14.6"># logUsage()</tspan><tspan x="1615" dy="14.6"># isUsageLogEnabled()</tspan></text></g>

<g id="Properties" class="n"><rect x="1129" y="2021" width="235" height="267"/><path d="M1129,2058H1364M1129,2085H1364"/><text class="c" x="1246" y="2035">ILIAS\ILIASObject\Properties<tspan x="1246" dy="14.6">\Properties</tspan></text>
<text x="1137" y="2099"><tspan x="1137" dy="0">+ __construct()</tspan><tspan x="1137" dy="14.6">+ storeCoreProperties()</tspan><tspan x="1137" dy="14.6">+ getOwner()</tspan><tspan x="1137" dy="14.6">+ withOwner()</tspan><tspan x="1137" dy="14.6">+ getImportId()</tspan><tspan x="1137" dy="14.6">+ withImportId()</tspan><tspan x="1137" dy="14.6">+ getPropertyTitleAndDescription()</tspan><tspan x="1137" dy="14.6">+ withPropertyTitleAndDescription()</tspan><tspan x="1137" dy="14.6">+ storePropertyTitleAndDescription()</tspan><tspan x="1137" dy="14.6">+ getPropertyIsOnline()</tspan><tspan x="1137" dy="14.6">and 16 more...</tspan><tspan x="1137" dy="14.6">- updateMetadataForTitleAnd</tspan><tspan x="1137" dy="14.6">Description()</tspan></text></g>

<g id="Aggregator" class="n"><rect x="1388" y="2094" width="194" height="121"/><path d="M1388,2131H1582M1388,2158H1582"/><text class="c" x="1485" y="2108">ILIAS\ILIASObject\Properties<tspan x="1485" dy="14.6">\Aggregator</tspan></text>
<text x="1396" y="2172"><tspan x="1396" dy="0">+ __construct()</tspan><tspan x="1396" dy="14.6">+ getFor()</tspan><tspan x="1396" dy="14.6">+ preload()</tspan></text></g>

<g id="ilRbacAdmin" class="n"><rect x="2022" y="1596" width="188" height="251"/><path d="M2022,1621H2210M2022,1648H2210"/><text class="c" x="2116" y="1613">ilRbacAdmin</text>
<text x="2030" y="1662"><tspan x="2030" dy="0">+ __construct()</tspan><tspan x="2030" dy="14.6">+ setBlockedStatus()</tspan><tspan x="2030" dy="14.6">+ removeUser()</tspan><tspan x="2030" dy="14.6">+ deleteRole()</tspan><tspan x="2030" dy="14.6">+ deleteTemplate()</tspan><tspan x="2030" dy="14.6">+ deleteLocalRole()</tspan><tspan x="2030" dy="14.6">+ assignUserLimited()</tspan><tspan x="2030" dy="14.6">+ assignUser()</tspan><tspan x="2030" dy="14.6">+ deassignUser()</tspan><tspan x="2030" dy="14.6">+ grantPermission()</tspan><tspan x="2030" dy="14.6">and 18 more...</tspan><tspan x="2030" dy="14.6"># applyMovedObjectDidactic</tspan><tspan x="2030" dy="14.6">Templates()</tspan></text></g>

<g id="ilTree" class="n"><rect x="2718" y="1530" width="223" height="384"/><path d="M2718,1555H2941M2718,1582H2941"/><text class="c" x="2829" y="1547">ilTree</text>
<text x="2726" y="1573"># DEFAULT_GAP</text>
<text x="2726" y="1596"><tspan x="2726" dy="0">+ __construct()</tspan><tspan x="2726" dy="14.6">+ initTreeImplementation()</tspan><tspan x="2726" dy="14.6">+ getTreeImplementation()</tspan><tspan x="2726" dy="14.6">+ useCache()</tspan><tspan x="2726" dy="14.6">+ getDepthCache()</tspan><tspan x="2726" dy="14.6">+ getParentCache()</tspan><tspan x="2726" dy="14.6">+ initLangCode()</tspan><tspan x="2726" dy="14.6">+ getTreeTable()</tspan><tspan x="2726" dy="14.6">+ getObjectDataTable()</tspan><tspan x="2726" dy="14.6">+ getTreePk()</tspan><tspan x="2726" dy="14.6">and 60 more...</tspan><tspan x="2726" dy="14.6">+ lookupTreesForNode()</tspan><tspan x="2726" dy="14.6">+ _removeEntry()</tspan><tspan x="2726" dy="14.6"># isCacheUsed()</tspan><tspan x="2726" dy="14.6"># resetInTreeCache()</tspan><tspan x="2726" dy="14.6"># fetchTranslationFromObject</tspan><tspan x="2726" dy="14.6">DataCache()</tspan><tspan x="2726" dy="14.6"># __renumber()</tspan><tspan x="2726" dy="14.6"># __checkDelete()</tspan><tspan x="2726" dy="14.6"># __getSubTreeByParentRelation()</tspan><tspan x="2726" dy="14.6"># __validateSubtrees()</tspan><tspan x="2726" dy="14.6"># isRepositoryTree()</tspan></text></g>

<g id="ilObject" class="n"><rect x="1884" y="2382" width="227" height="619"/><path d="M1884,2406H2111M1884,2433H2111"/><text class="c" x="1997" y="2399">ilObject</text>
<text x="1892" y="2447"><tspan x="1892" dy="0">+ getObjectProperties()</tspan><tspan x="1892" dy="14.6">+ flushObjectProperties()</tspan><tspan x="1892" dy="14.6">+ withReferences()</tspan><tspan x="1892" dy="14.6">+ processAutoRating()</tspan><tspan x="1892" dy="14.6">+ read()</tspan><tspan x="1892" dy="14.6">+ getId()</tspan><tspan x="1892" dy="14.6">+ setId()</tspan><tspan x="1892" dy="14.6">+ setRefId()</tspan><tspan x="1892" dy="14.6">+ getRefId()</tspan><tspan x="1892" dy="14.6">+ getType()</tspan><tspan x="1892" dy="14.6">and 40 more...</tspan><tspan x="1892" dy="14.6">+ _lookupObjIdByImportId()</tspan><tspan x="1892" dy="14.6">+ _lookupImportId()</tspan><tspan x="1892" dy="14.6">+ _lookupOwnerName()</tspan><tspan x="1892" dy="14.6">+ _getIdForImportId()</tspan><tspan x="1892" dy="14.6">+ _getAllReferences()</tspan><tspan x="1892" dy="14.6">+ _lookupTitle()</tspan><tspan x="1892" dy="14.6">+ lookupOfflineStatus()</tspan><tspan x="1892" dy="14.6">+ _lookupOwner()</tspan><tspan x="1892" dy="14.6">+ _getIdsForTitle()</tspan><tspan x="1892" dy="14.6">+ _lookupDescription()</tspan><tspan x="1892" dy="14.6">and 27 more...</tspan><tspan x="1892" dy="14.6"># doMDUpdateListener()</tspan><tspan x="1892" dy="14.6"># beforeMDUpdateListener()</tspan><tspan x="1892" dy="14.6"># doCreateMetaData()</tspan><tspan x="1892" dy="14.6"># beforeCreateMetaData()</tspan><tspan x="1892" dy="14.6"># doUpdateMetaData()</tspan><tspan x="1892" dy="14.6"># beforeUpdateMetaData()</tspan><tspan x="1892" dy="14.6"># doDeleteMetaData()</tspan><tspan x="1892" dy="14.6"># beforeDeleteMetaData()</tspan><tspan x="1892" dy="14.6"># handleAutoRating()</tspan><tspan x="1892" dy="14.6"># hasAutoRating()</tspan><tspan x="1892" dy="14.6">- appendCopyInfoToTranslations()</tspan><tspan x="1892" dy="14.6">- getCallbackForTitlesPerLanguage</tspan><tspan x="1892" dy="14.6">Transformation()</tspan><tspan x="1892" dy="14.6">- appendNumberOfCopiesToTitle()</tspan><tspan x="1892" dy="14.6">- isTitleUnique()</tspan><tspan x="1892" dy="14.6">- buildTitleWithoutCopySuffix()</tspan></text></g>

<g id="ilObjUser" class="n"><rect x="3687" y="3064" width="201" height="766"/><path d="M3687,3091H3888M3687,3423H3888"/><text class="c" x="3787" y="3081">ilObjUser</text>
<text x="3695" y="3105"><tspan x="3695" dy="0">+ $login</tspan><tspan x="3695" dy="14.6">+ $gender</tspan><tspan x="3695" dy="14.6">+ $utitle</tspan><tspan x="3695" dy="14.6">+ $firstname</tspan><tspan x="3695" dy="14.6">+ $lastname</tspan><tspan x="3695" dy="14.6">+ $fullname</tspan><tspan x="3695" dy="14.6">+ $department</tspan><tspan x="3695" dy="14.6">+ $street</tspan><tspan x="3695" dy="14.6">+ $city</tspan><tspan x="3695" dy="14.6">+ $country</tspan><tspan x="3695" dy="14.6">and 12 more...</tspan><tspan x="3695" dy="14.6"># $time_limit_message</tspan><tspan x="3695" dy="14.6"># $last_login</tspan><tspan x="3695" dy="14.6"># $passwd</tspan><tspan x="3695" dy="14.6"># $password_encoding_type</tspan><tspan x="3695" dy="14.6"># $password_salt</tspan><tspan x="3695" dy="14.6"># $birthday</tspan><tspan x="3695" dy="14.6"># $second_email</tspan><tspan x="3695" dy="14.6"># $inactivation_date</tspan><tspan x="3695" dy="14.6"># $org_units</tspan><tspan x="3695" dy="14.6"># $last_profile_prompt</tspan><tspan x="3695" dy="14.6"># $avatar_rid</tspan></text>
<text x="3695" y="3438"><tspan x="3695" dy="0">+ __construct()</tspan><tspan x="3695" dy="14.6">+ read()</tspan><tspan x="3695" dy="14.6">+ getPasswordEncodingType()</tspan><tspan x="3695" dy="14.6">+ setPasswordEncodingType()</tspan><tspan x="3695" dy="14.6">+ getPasswordSalt()</tspan><tspan x="3695" dy="14.6">+ setPasswordSalt()</tspan><tspan x="3695" dy="14.6">+ assignData()</tspan><tspan x="3695" dy="14.6">+ saveAsNew()</tspan><tspan x="3695" dy="14.6">+ update()</tspan><tspan x="3695" dy="14.6">+ writeAccepted()</tspan><tspan x="3695" dy="14.6">and 169 more...</tspan><tspan x="3695" dy="14.6">+ _lookupFullname()</tspan><tspan x="3695" dy="14.6">+ _lookupEmail()</tspan><tspan x="3695" dy="14.6">+ _lookupGender()</tspan><tspan x="3695" dy="14.6">+ _lookupClientIP()</tspan><tspan x="3695" dy="14.6">+ _lookupName()</tspan><tspan x="3695" dy="14.6">+ _lookupFields()</tspan><tspan x="3695" dy="14.6">+ _lookupLogin()</tspan><tspan x="3695" dy="14.6">+ _lookupExternalAccount()</tspan><tspan x="3695" dy="14.6">+ _lookupId()</tspan><tspan x="3695" dy="14.6">+ _lookupLastLogin()</tspan><tspan x="3695" dy="14.6">and 62 more...</tspan><tspan x="3695" dy="14.6"># buildTextFromArray()</tspan><tspan x="3695" dy="14.6"># readMultiTextFields()</tspan><tspan x="3695" dy="14.6"># deleteMultiTextFields()</tspan><tspan x="3695" dy="14.6">- _lookup()</tspan><tspan x="3695" dy="14.6">- getLoginFromAuth()</tspan></text></g>

<g id="ilObjBlogAdministration" class="gr"><rect x="329" y="3409" width="158" height="76"/><path d="M329,3434H487M329,3459H487"/><text class="c" x="408" y="3426">ilObjBlogAdministration</text><text x="337" y="3476">+ __construct()</text></g>
</svg>
